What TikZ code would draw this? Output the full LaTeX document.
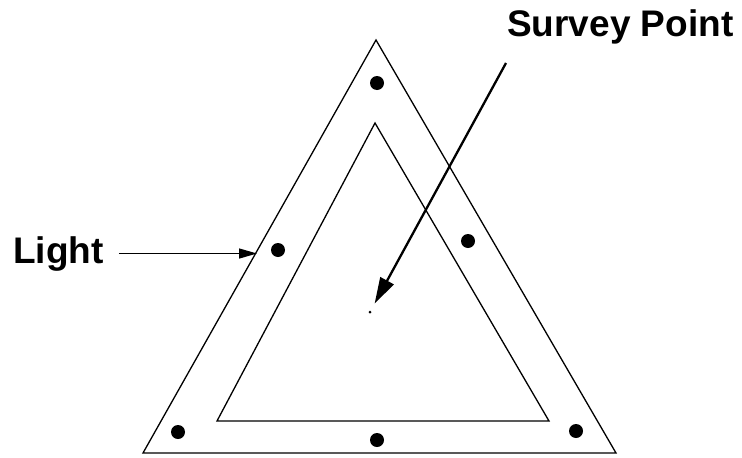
\documentclass[tikz,border=0pt]{standalone}
\usepackage{fontspec}
\setmainfont{Liberation Sans}
\usetikzlibrary{arrows.meta, positioning}
\tikzset{
  edgeT/.style={draw=black, line width=1.3pt, line join=miter},
  lamp/.style={circle, fill=black, inner sep=0pt, minimum size=14pt},
  labelT/.style={font=\bfseries\fontsize{37}{44}\selectfont, inner sep=0pt},
  arrowThin/.style={-{Triangle[length=18pt, width=10pt]}, line width=1.3pt},
  arrowThick/.style={-{Triangle[length=26pt, width=15pt]}, line width=2.3pt},
}
\begin{document}
\begin{tikzpicture}[x=1pt, y=-1pt]
  \useasboundingbox (0,0) rectangle (742,458);
  % outer and inner frame
  \coordinate (oA) at (376,40);
  \coordinate (oB) at (143,453);
  \coordinate (oC) at (616,453);
  \coordinate (iA) at (375,123);
  \coordinate (iB) at (217,421);
  \coordinate (iC) at (549,421);
  \draw[edgeT] (oA) -- (oB) -- (oC) -- cycle;
  \draw[edgeT] (iA) -- (iB) -- (iC) -- cycle;
  % lights
  \node[lamp] (lampTop) at (377,83) {};
  \node[lamp] (lampLeft) at (278,250) {};
  \node[lamp] (lampRight) at (468,241) {};
  \node[lamp] (lampBL) at (178,432) {};
  \node[lamp] (lampBM) at (377,440) {};
  \node[lamp] (lampBR) at (576,431) {};
  \node[circle, fill=black, inner sep=0pt, minimum size=3pt] (surveyPt) at (370,312) {};
  % labels
  \node[labelT, anchor=base west] (light) at (13,263) {Light};
  \node[labelT, anchor=base west] (survey) at (507,36) {Survey Point};
  \coordinate (lightTip) at (257,252);
  \coordinate (surveyTail) at (506,63);
  \draw[arrowThin, shorten <=15pt] (light.east) -- (light.east -| lightTip);
  \draw[arrowThick, shorten >=8pt] (surveyTail) -- (surveyPt);
\end{tikzpicture}
\end{document}
